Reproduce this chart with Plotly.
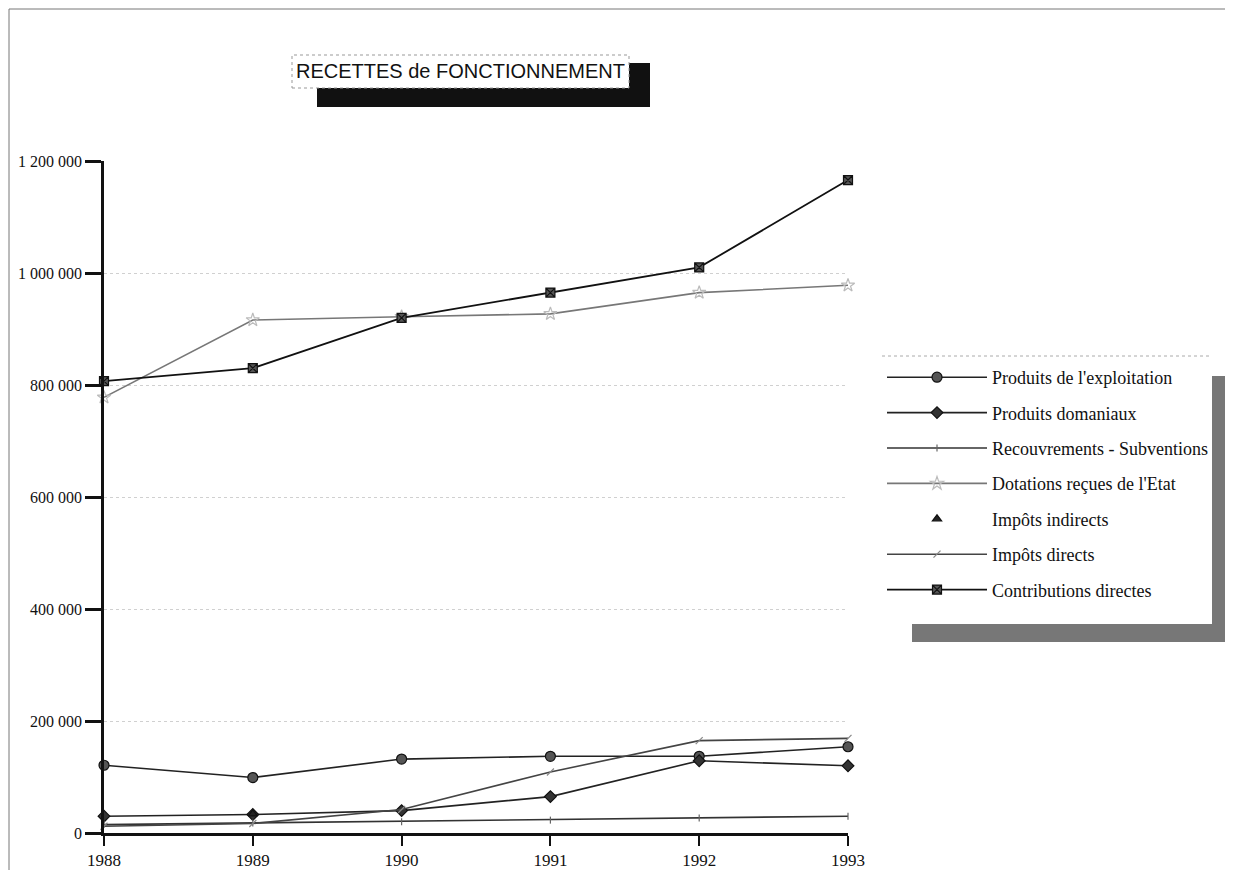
import plotly.graph_objects as go

years = [1988, 1989, 1990, 1991, 1992, 1993]
x_labels = ["1988", "1989", "1990", "1991", "1992", "1993"]
y_ticks = [0, 200000, 400000, 600000, 800000, 1000000, 1200000]
y_labels = ["0", "200 000", "400 000", "600 000", "800 000", "1 000 000", "1 200 000"]

produits_exploitation = [121000, 99000, 132000, 137000, 137000, 154000]
produits_domaniaux = [30000, 33000, 40000, 65000, 129000, 120000]
recouvrements_subventions = [15000, 18000, 20000, 23000, 27000, 30000]
dotations_etat = [778000, 916000, 922000, 927000, 965000, 978000]
impots_indirects = [None, 34000, None, None, None, None]
impots_directs = [12000, 17000, 42000, 109000, 165000, 169000]
contributions_directes = [807000, 830000, 920000, 965000, 1010000, 1166000]

serif = "Liberation Serif, Times New Roman, serif"

fig = go.Figure()

def add(name, vals, mode, color, width, symbol, msize, mcolor, mline):
    fig.add_trace(go.Scatter(
        x=years, y=vals, name=name, mode=mode, legendgroup=name,
        line=dict(color=color, width=width),
        marker=dict(symbol=symbol, size=msize, color=mcolor,
                    line=dict(color=mline, width=1.2)),
        cliponaxis=False, connectgaps=False,
    ))

add("Produits de l'exploitation", produits_exploitation, "lines+markers",
    "#222", 1.6, "circle", 10, "#555", "#111")
add("Produits domaniaux", produits_domaniaux, "lines+markers",
    "#222", 1.6, "diamond", 9, "#333", "#111")
add("Recouvrements - Subventions", recouvrements_subventions, "lines+markers",
    "#333", 1.6, "line-ns", 5, "#666", "#666")
add("Dotations reçues de l'Etat", dotations_etat, "lines+markers",
    "#777", 1.6, "star-open", 10, "#bbb", "#aaa")
add("Impôts indirects", impots_indirects, "markers",
    "#222", 1.6, "triangle-up", 8, "#222", "#111")
add("Impôts directs", impots_directs, "lines+markers",
    "#444", 1.6, "line-ne", 7, "#888", "#888")
add("Contributions directes", contributions_directes, "lines+markers",
    "#111", 1.8, "square-x", 9, "#555", "#111")

# page coordinates -> paper coordinates (plot area spans x 104..848, y 161..833)
def px2paper_x(px):
    return (px - 104) / 744.0

def py2paper_y(py):
    return (833 - py) / 672.0

shapes = []
# page frame (left and top)
shapes.append(dict(type="line", xref="paper", yref="paper",
                   x0=px2paper_x(9), x1=px2paper_x(9), y0=py2paper_y(870), y1=py2paper_y(9),
                   line=dict(color="#777", width=1)))
shapes.append(dict(type="line", xref="paper", yref="paper",
                   x0=px2paper_x(9), x1=px2paper_x(1225), y0=py2paper_y(9), y1=py2paper_y(9),
                   line=dict(color="#777", width=1)))
# title shadow and box
shapes.append(dict(type="rect", xref="paper", yref="paper",
                   x0=px2paper_x(317), x1=px2paper_x(650), y0=py2paper_y(107), y1=py2paper_y(63),
                   fillcolor="#111", line=dict(width=0)))
shapes.append(dict(type="rect", xref="paper", yref="paper",
                   x0=px2paper_x(292), x1=px2paper_x(629), y0=py2paper_y(88), y1=py2paper_y(55),
                   fillcolor="white", line=dict(color="#999", width=1, dash="dot")))
# legend shadow
shapes.append(dict(type="rect", xref="paper", yref="paper",
                   x0=px2paper_x(1212), x1=px2paper_x(1225), y0=py2paper_y(642), y1=py2paper_y(376),
                   fillcolor="#777", line=dict(width=0)))
shapes.append(dict(type="rect", xref="paper", yref="paper",
                   x0=px2paper_x(912), x1=px2paper_x(1225), y0=py2paper_y(642), y1=py2paper_y(624),
                   fillcolor="#777", line=dict(width=0)))
shapes.append(dict(type="line", xref="paper", yref="paper",
                   x0=px2paper_x(882), x1=px2paper_x(1212), y0=py2paper_y(356), y1=py2paper_y(356),
                   line=dict(color="#aaa", width=1, dash="dot")))

fig.update_layout(
    width=1217, height=863,
    margin=dict(l=96, r=377, t=153, b=38, autoexpand=False),
    paper_bgcolor="white", plot_bgcolor="white",
    showlegend=True,
    legend=dict(
        x=px2paper_x(882), y=py2paper_y(359), xanchor="left", yanchor="top",
        font=dict(family=serif, size=18, color="#111"),
        bgcolor="rgba(0,0,0,0)", borderwidth=0,
        itemwidth=100, tracegroupgap=9,
    ),
    shapes=shapes,
    annotations=[dict(
        text="RECETTES de FONCTIONNEMENT", xref="paper", yref="paper",
        x=px2paper_x(294), y=py2paper_y(71), xanchor="left", yanchor="middle",
        showarrow=False, font=dict(family="Liberation Sans, Arial, sans-serif", size=20, color="#111"),
    )],
    xaxis=dict(
        range=[1988, 1993], tickmode="array", tickvals=years, ticktext=x_labels,
        showgrid=False, zeroline=False, showline=True, linecolor="#111", linewidth=2.5,
        ticks="outside", ticklen=10, tickwidth=2, tickcolor="#111", automargin=False,
        tickfont=dict(family=serif, size=17, color="#111"),
    ),
    yaxis=dict(
        range=[0, 1200000], tickmode="array", tickvals=y_ticks, ticktext=y_labels,
        showgrid=True, gridcolor="#d0d0d0", griddash="dot", gridwidth=1,
        zeroline=False, showline=True, linecolor="#111", linewidth=2.5,
        ticks="outside", ticklen=16, tickwidth=2.5, tickcolor="#111", automargin=False,
        tickfont=dict(family=serif, size=16, color="#111"),
    ),
)

fig.write_html("out.html")
